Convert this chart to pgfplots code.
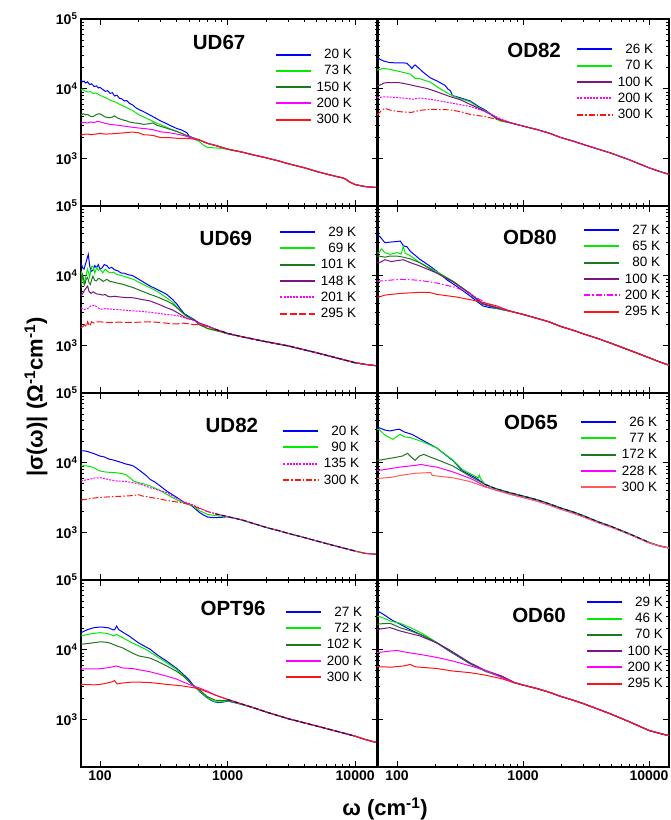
\documentclass[border=0pt]{standalone}
\usepackage{fontspec}
\setmainfont{Liberation Sans}
\usepackage{pgfplots}
\pgfplotsset{compat=1.18}
\definecolor{cblue}{RGB}{0,0,255}
\definecolor{cgreen}{RGB}{0,235,0}
\definecolor{cdgreen}{RGB}{30,120,30}
\definecolor{cpurple}{RGB}{125,20,130}
\definecolor{cmag}{RGB}{255,0,255}
\definecolor{cred}{RGB}{255,20,20}
\definecolor{cpale}{RGB}{255,90,90}
\definecolor{cnavy}{RGB}{0,0,120}
\tikzset{
  lw/.style={line width=1pt},
  dots/.style={dash pattern=on 2pt off 1.2pt},
  ldash/.style={dash pattern=on 7pt off 2.5pt},
  ddot/.style={dash pattern=on 6pt off 2pt on 1.5pt off 2pt},
  fitln/.style={cnavy, line width=0.9pt, dash pattern=on 4pt off 3pt},
}
\pgfplotsset{
  myPanel/.style={
    scale only axis, width=297pt, height=187pt,
    ymin=210, ymax=100000,
    ytick={1000,10000,100000}, xtick={100,1000,10000},
    xticklabels={}, yticklabels={},
    tick align=inside, tick pos=both,
    major tick length=6pt, minor tick length=3.5pt,
    axis line style={line width=1.2pt},
    every tick/.style={black, line width=0.8pt},
    tick label style={font=\bfseries\fontsize{14}{14}\selectfont},
    legend cell align=right,
    legend style={draw=none, fill=none, anchor=north east, inner sep=0pt, outer sep=0pt,
      font=\fontsize{13.5}{13.5}\selectfont,
      nodes={inner sep=0.5pt, text height=9.5pt, text depth=2.5pt},
      row sep=3.3pt, column sep=4pt},
    legend image code/.code={\draw[##1, line width=2pt] (0pt,0.5pt) -- (35pt,0.5pt);},
  },
  myLeft/.style={myPanel, xmin=71, xmax=15100},
  myRight/.style={myPanel, xmin=69.3, xmax=14400, width=292pt},
  myYlab/.style={yticklabels={10\textsuperscript{3},10\textsuperscript{4},10\textsuperscript{5}}},
  myXlab/.style={xticklabels={100,1000,10000}},
}
\newcommand{\ttl}{\bfseries\fontsize{20.5}{20.5}\selectfont}
\begin{document}
\begin{tikzpicture}
\useasboundingbox (0pt,0pt) rectangle (670pt,820pt);
% ================= UD67 =================
\begin{loglogaxis}[myLeft, myYlab, at={(81pt,614pt)}, anchor=south west,
  legend style={at={(0.914,0.842)}}]
\addplot[cblue, lw] coordinates {(71,13400) (73,12600) (75,12900) (77,12100) (80,12600) (83,11500) (86,11800) (90,10800) (94,11000) (97,10300) (100,10500) (105,9800) (110,9200) (115,9400) (120,8600) (125,8800) (130,7900) (136,8100) (142,7300) (148,7200) (155,6700) (162,6800) (170,6200) (180,5900) (190,5400) (200,5100) (215,4800) (230,4500) (250,4150) (270,3850) (300,3450) (330,3200) (360,2950) (400,2700) (430,2600) (460,2450) (480,2350) (500,2100) (550,1950) (600,1850) (700,1650) (800,1550) (1000,1370) (1300,1240) (1600,1130) (2000,1030) (2500,930) (3000,845) (4000,740) (5000,655) (6000,600) (7000,560) (8000,530) (8500,505) (9000,465) (10000,425) (12000,398) (15100,385)};
\addlegendentry{20 K}
\addplot[cgreen, lw] coordinates {(71,9600) (73,9900) (76,9300) (80,9000) (84,9100) (88,8600) (93,8700) (100,8100) (106,7700) (112,7400) (120,6900) (128,6600) (136,6300) (145,5900) (155,5600) (165,5300) (180,4900) (200,4300) (220,3950) (250,3550) (280,3200) (300,3050) (350,2700) (400,2450) (450,2250) (500,2050) (550,1900) (600,1760) (650,1550) (700,1440) (800,1430) (900,1400) (1000,1360) (1300,1240) (1600,1130) (2000,1030) (2500,930) (3000,845) (4000,740) (5000,655) (6000,600) (7000,560) (8000,530) (8500,505) (9000,465) (10000,425) (12000,398) (15100,385)};
\addlegendentry{73 K}
\addplot[cdgreen, lw] coordinates {(71,4200) (74,4400) (77,4250) (80,4300) (84,4050) (88,4000) (92,4200) (96,4350) (100,4400) (105,4150) (110,3950) (118,3850) (125,3950) (130,4100) (138,3800) (150,3600) (160,3500) (170,3350) (185,3250) (200,3200) (220,3100) (240,3150) (260,3250) (280,3000) (300,2900) (350,2650) (400,2450) (450,2250) (500,2080) (550,1950) (600,1850) (700,1650) (800,1550) (1000,1370) (1300,1240) (1600,1130) (2000,1030) (2500,930) (3000,845) (4000,740) (5000,655) (6000,600) (7000,560) (8000,530) (8500,505) (9000,465) (10000,425) (12000,398) (15100,385)};
\addlegendentry{150 K}
\addplot[cmag, lw] coordinates {(71,3240) (75,3300) (80,3250) (85,3350) (90,3300) (95,3400) (100,3370) (110,3200) (120,3100) (130,3050) (140,3000) (150,2950) (170,2850) (200,2750) (230,2680) (260,2600) (300,2420) (350,2350) (400,2250) (450,2150) (500,2030) (550,1940) (600,1850) (700,1650) (800,1550) (1000,1370) (1300,1240) (1600,1130) (2000,1030) (2500,930) (3000,845) (4000,740) (5000,655) (6000,600) (7000,560) (8000,530) (8500,505) (9000,465) (10000,425) (12000,398) (15100,385)};
\addlegendentry{200 K}
\addplot[cred, lw] coordinates {(71,2180) (75,2230) (80,2250) (85,2200) (90,2230) (100,2300) (110,2250) (120,2260) (135,2300) (150,2330) (165,2380) (180,2400) (200,2350) (220,2200) (240,2180) (260,2150) (300,2000) (350,2000) (400,1960) (450,1950) (500,1940) (550,1900) (600,1850) (700,1650) (800,1550) (1000,1370) (1300,1240) (1600,1130) (2000,1030) (2500,930) (3000,845) (4000,740) (5000,655) (6000,600) (7000,560) (8000,530) (8500,505) (9000,465) (10000,425) (12000,398) (15100,385)};
\addlegendentry{300 K}
\node[font=\ttl] at (rel axis cs:0.465,0.872) {UD67};
\end{loglogaxis}
% ================= OD82 =================
\begin{loglogaxis}[myRight, at={(377pt,614pt)}, anchor=south west,
  legend style={at={(0.947,0.869)}}]
\addplot[cblue, lw] coordinates {(69.3,27300) (72,27000) (78,25000) (88,23700) (105,23500) (119,23400) (127,21000) (131,19500) (135,21000) (139,22000) (150,19500) (160,17500) (183,14400) (210,12800) (240,11200) (255,9800) (265,9400) (275,8000) (290,7800) (320,7400) (380,6700) (450,5500) (500,4970) (550,4400) (620,3800) (700,3450) (800,3250) (1000,2930) (1300,2600) (1600,2330) (2000,2000) (2500,1780) (3000,1600) (4000,1360) (5000,1200) (7000,960) (10000,740) (12000,660) (14400,595)};
\addlegendentry{26 K}
\addplot[cgreen, lw] coordinates {(69.3,18600) (72,18800) (78,19700) (88,19000) (100,18000) (115,17000) (127,16300) (135,14800) (139,14100) (150,14000) (160,13500) (183,12500) (220,10000) (263,8300) (300,7500) (380,6530) (450,5300) (540,4470) (620,3650) (660,3450) (720,3350) (800,3250) (1000,2930) (1300,2600) (1600,2330) (2000,2000) (2500,1780) (3000,1600) (4000,1360) (5000,1200) (7000,960) (10000,740) (12000,660) (14400,595)};
\addlegendentry{70 K}
\addplot[cpurple, lw] coordinates {(69.3,11000) (72,11200) (80,12200) (95,12300) (106,12200) (125,11500) (139,11000) (170,10200) (206,9100) (260,7800) (316,7000) (380,6000) (450,5200) (540,4400) (620,3750) (700,3450) (800,3250) (1000,2930) (1300,2600) (1600,2330) (2000,2000) (2500,1780) (3000,1600) (4000,1360) (5000,1200) (7000,960) (10000,740) (12000,660) (14400,595)};
\addlegendentry{100 K}
\addplot[cmag, lw, dots] coordinates {(69.3,7550) (72,7500) (78,7700) (90,7600) (100,7500) (120,7300) (134,7100) (145,7300) (154,7400) (200,6900) (278,6200) (380,5600) (500,4700) (650,3800) (827,3200) (1000,2930) (1300,2600) (1600,2330) (2000,2000) (2500,1780) (3000,1600) (4000,1360) (5000,1200) (7000,960) (10000,740) (12000,660) (14400,595)};
\addlegendentry{200 K}
\addplot[cred, lw, ddot] coordinates {(69.3,4220) (72,4500) (76,5000) (80,5250) (90,4900) (106,4700) (130,4600) (150,4900) (183,5100) (263,5000) (320,4700) (380,4300) (500,4000) (620,3650) (800,3250) (1000,2930) (1300,2600) (1600,2330) (2000,2000) (2500,1780) (3000,1600) (4000,1360) (5000,1200) (7000,960) (10000,740) (12000,660) (14400,595)};
\addlegendentry{300 K}
\node[font=\ttl] at (rel axis cs:0.538,0.834) {OD82};
\end{loglogaxis}
% ================= UD69 =================
\begin{loglogaxis}[myLeft, myYlab, at={(81pt,427pt)}, anchor=south west,
  legend style={at={(0.928,0.892)}}]
\addplot[cblue, lw] coordinates {(71,15400) (73,13000) (75,12500) (78,16000) (81,20300) (83,14000) (85,11500) (88,12000) (91,14000) (94,13000) (97,14500) (100,12500) (104,13000) (108,14500) (113,14000) (118,12800) (124,13200) (130,12200) (138,11800) (146,11000) (155,10900) (165,10400) (175,10200) (183,9900) (200,9000) (220,8100) (247,7150) (270,6600) (300,6000) (333,5430) (370,4600) (400,3950) (430,3300) (460,2850) (500,2600) (540,2400) (600,2100) (700,1900) (800,1720) (1000,1500) (1300,1340) (1600,1240) (2000,1140) (3000,990) (5000,790) (7000,675) (10000,569) (12000,540) (15100,512)};
\addlegendentry{29 K}
\addplot[cgreen, lw] coordinates {(71,11700) (73,9000) (75,7500) (78,10500) (80,12500) (83,9500) (86,13500) (88,13800) (91,11000) (94,13000) (97,12000) (100,12500) (105,11000) (110,12500) (115,11500) (120,11000) (128,11300) (135,10500) (145,10200) (160,9600) (183,8900) (210,7800) (247,6760) (280,6000) (333,4850) (370,4200) (400,3600) (440,3000) (478,2600) (540,2350) (600,2000) (700,1750) (800,1650) (900,1560) (1000,1480) (1300,1340) (1600,1240) (2000,1140) (3000,990) (5000,790) (7000,675) (10000,569) (12000,540) (15100,512)};
\addlegendentry{69 K}
\addplot[cdgreen, lw] coordinates {(71,6800) (72,9500) (73,10500) (75,8500) (76,7500) (78,9000) (80,9500) (82,8000) (84,7500) (86,8800) (88,9900) (91,8600) (94,8500) (97,9200) (100,9000) (106,8300) (113,8900) (120,8300) (125,8200) (132,8000) (140,7800) (150,7600) (160,7300) (183,6760) (210,6100) (247,5430) (280,5000) (333,4370) (370,3950) (400,3500) (440,3000) (478,2650) (540,2400) (600,2000) (700,1760) (800,1660) (900,1570) (1000,1480) (1300,1340) (1600,1240) (2000,1140) (3000,990) (5000,790) (7000,675) (10000,569) (12000,540) (15100,512)};
\addlegendentry{101 K}
\addplot[cpurple, lw] coordinates {(71,5150) (74,5800) (77,6500) (80,7150) (82,6000) (85,5600) (88,5900) (90,5800) (94,5500) (100,5430) (105,5300) (110,5400) (115,5100) (120,5000) (130,5100) (140,5000) (155,4900) (183,4850) (210,4600) (247,4370) (290,3900) (333,3490) (370,3250) (400,3000) (440,2700) (478,2450) (540,2350) (600,2100) (700,1900) (800,1720) (1000,1500) (1300,1340) (1600,1240) (2000,1140) (3000,990) (5000,790) (7000,675) (10000,569) (12000,540) (15100,512)};
\addlegendentry{148 K}
\addplot[cmag, lw, dots] coordinates {(71,3490) (75,3300) (80,3400) (85,3700) (90,3800) (95,3600) (100,3310) (105,3350) (110,3400) (120,3350) (130,3300) (150,3250) (183,3150) (210,3100) (250,3000) (290,2900) (333,2800) (400,2700) (478,2450) (540,2300) (600,2100) (700,1900) (800,1720) (1000,1500) (1300,1340) (1600,1240) (2000,1140) (3000,990) (5000,790) (7000,675) (10000,569) (12000,540) (15100,512)};
\addlegendentry{201 K}
\addplot[cred, lw, ldash] coordinates {(71,1800) (74,1900) (76,2000) (78,1850) (80,2200) (83,1900) (86,2200) (90,2100) (95,2200) (100,2200) (110,2150) (120,2150) (140,2170) (160,2150) (183,2150) (210,2180) (250,2200) (290,2150) (333,2100) (370,2050) (400,2050) (450,2100) (500,2050) (540,2000) (600,2000) (700,1870) (800,1720) (1000,1500) (1300,1340) (1600,1240) (2000,1140) (3000,990) (5000,790) (7000,675) (10000,569) (12000,540) (15100,512)};
\addlegendentry{295 K}
\addplot[fitln, forget plot] coordinates {(800,1720) (1000,1500) (1300,1340) (1600,1240) (2000,1140) (3000,990) (5000,790) (7000,675) (10000,569)};
\node[font=\ttl] at (rel axis cs:0.488,0.824) {UD69};
\end{loglogaxis}
% ================= OD80 =================
\begin{loglogaxis}[myRight, at={(377pt,427pt)}, anchor=south west,
  legend style={at={(0.971,0.903)}}]
\addplot[cblue, lw] coordinates {(69.3,37200) (72,37200) (75,34500) (80,29800) (90,30500) (100,31000) (106,31500) (112,27000) (120,26000) (127,22600) (140,19500) (152,17200) (180,14000) (206,11700) (250,8700) (300,7000) (380,5150) (430,4300) (481,3700) (550,3500) (620,3400) (700,3250) (800,3100) (1000,2800) (1300,2450) (1600,2200) (2000,1880) (2500,1660) (3000,1480) (4000,1250) (5000,1080) (7000,860) (10000,672) (12000,590) (14400,525)};
\addlegendentry{27 K}
\addplot[cgreen, lw] coordinates {(69.3,21400) (72,21400) (75,24300) (80,21500) (88,20300) (100,21500) (108,20500) (112,26700) (116,21000) (127,19500) (152,15400) (206,11500) (278,8400) (380,5600) (450,4200) (515,3800) (620,3400) (700,3250) (800,3100) (1000,2800) (1300,2450) (1600,2200) (2000,1880) (2500,1660) (3000,1480) (4000,1250) (5000,1080) (7000,860) (10000,672) (12000,590) (14400,525)};
\addlegendentry{65 K}
\addplot[cdgreen, lw] coordinates {(69.3,19200) (72,19200) (80,18500) (88,19200) (100,19200) (112,18500) (127,17500) (152,15400) (206,11000) (278,8300) (380,5500) (481,3900) (620,3450) (700,3280) (800,3100) (1000,2800) (1300,2450) (1600,2200) (2000,1880) (2500,1660) (3000,1480) (4000,1250) (5000,1080) (7000,860) (10000,672) (12000,590) (14400,525)};
\addlegendentry{80 K}
\addplot[cpurple, lw] coordinates {(69.3,15400) (72,15400) (80,17000) (90,16000) (100,16500) (112,17000) (127,15500) (152,13800) (206,11000) (278,8200) (380,5600) (481,4000) (620,3500) (700,3300) (800,3100) (1000,2800) (1300,2450) (1600,2200) (2000,1880) (2500,1660) (3000,1480) (4000,1250) (5000,1080) (7000,860) (10000,672) (12000,590) (14400,525)};
\addlegendentry{100 K}
\addplot[cmag, lw, ddot] coordinates {(69.3,8400) (72,8400) (90,8700) (106,8900) (127,8800) (152,8600) (206,7900) (297,6760) (380,5500) (428,4850) (520,4000) (620,3600) (700,3330) (800,3100) (1000,2800) (1300,2450) (1600,2200) (2000,1880) (2500,1660) (3000,1480) (4000,1250) (5000,1080) (7000,860) (10000,672) (12000,590) (14400,525)};
\addlegendentry{200 K}
\addplot[cred, lw] coordinates {(69.3,4970) (72,4970) (80,5300) (106,5600) (152,5800) (180,5800) (206,5430) (297,4970) (428,4370) (620,3700) (700,3400) (800,3100) (1000,2800) (1300,2450) (1600,2200) (2000,1880) (2500,1660) (3000,1480) (4000,1250) (5000,1080) (7000,860) (10000,672) (12000,590) (14400,525)};
\addlegendentry{295 K}
\node[font=\ttl] at (rel axis cs:0.524,0.834) {OD80};
\end{loglogaxis}
% ================= UD82 =================
\begin{loglogaxis}[myLeft, myYlab, at={(81pt,240pt)}, anchor=south west,
  legend style={at={(0.938,0.828)}}]
\addplot[cblue, lw] coordinates {(71,14800) (75,14900) (80,14500) (85,14000) (90,13500) (95,13000) (100,12500) (105,12300) (110,12000) (115,11500) (120,11200) (127,11000) (135,10600) (140,10400) (150,10000) (160,9600) (170,9400) (183,9000) (195,8300) (210,7500) (230,6600) (247,5800) (270,5300) (290,4800) (333,3950) (370,3500) (400,3200) (450,2750) (520,2450) (606,1930) (650,1780) (700,1670) (800,1640) (900,1660) (1000,1690) (1300,1520) (1600,1350) (2000,1190) (2500,1070) (3000,975) (4000,850) (5000,760) (7000,645) (10000,545) (12000,505) (15100,488)};
\addlegendentry{20 K}
\addplot[cgreen, lw] coordinates {(71,9000) (75,9100) (80,9000) (85,8800) (90,8500) (95,8000) (100,7650) (110,7400) (120,7300) (135,7200) (150,7000) (160,6700) (170,6200) (183,5500) (200,5200) (220,5000) (247,4660) (290,4100) (333,3540) (400,2950) (450,2680) (520,2500) (606,2050) (700,1820) (800,1760) (900,1720) (1000,1700) (1300,1520) (1600,1350) (2000,1190) (2500,1070) (3000,975) (4000,850) (5000,760) (7000,645) (10000,545) (12000,505) (15100,488)};
\addlegendentry{90 K}
\addplot[cmag, lw, dots] coordinates {(71,5500) (78,5700) (85,5900) (92,6100) (100,6120) (107,6000) (115,5800) (125,5600) (135,5500) (150,5450) (160,5400) (183,5190) (210,4900) (247,4400) (290,4050) (333,3750) (400,3100) (450,2800) (520,2550) (606,2250) (700,2000) (800,1870) (1000,1700) (1300,1520) (1600,1350) (2000,1190) (2500,1070) (3000,975) (4000,850) (5000,760) (7000,645) (10000,545) (12000,505) (15100,488)};
\addlegendentry{135 K}
\addplot[cred, lw, ddot] coordinates {(71,2930) (78,3000) (85,3100) (100,3200) (115,3250) (135,3300) (160,3350) (183,3400) (200,3500) (215,3350) (230,3300) (247,3200) (290,3050) (333,2900) (400,2750) (450,2650) (520,2500) (606,2200) (700,2000) (800,1870) (1000,1700) (1300,1520) (1600,1350) (2000,1190) (2500,1070) (3000,975) (4000,850) (5000,760) (7000,645) (10000,545) (12000,505) (15100,488)};
\addlegendentry{300 K}
\addplot[fitln, forget plot] coordinates {(800,1870) (1000,1700) (1300,1520) (1600,1350) (2000,1190) (2500,1070) (3000,975) (4000,850) (5000,760) (7000,645) (10000,545)};
\node[font=\ttl] at (rel axis cs:0.508,0.829) {UD82};
\end{loglogaxis}
% ================= OD65 =================
\begin{loglogaxis}[myRight, at={(377pt,240pt)}, anchor=south west,
  legend style={at={(0.961,0.876)}}]
\addplot[cblue, lw] coordinates {(69.3,31800) (72,31800) (80,29500) (88,28600) (95,29500) (104,30300) (115,27500) (131,25600) (160,21000) (206,16400) (280,10600) (330,7650) (420,6100) (500,4900) (600,4300) (700,3950) (800,3700) (1000,3340) (1300,2950) (1600,2600) (2000,2250) (2500,1980) (3000,1750) (4000,1420) (5000,1230) (7000,960) (10000,725) (12000,650) (14400,605)};
\addlegendentry{26 K}
\addplot[cgreen, lw] coordinates {(69.3,30300) (72,30000) (80,25000) (93,21700) (100,24000) (106,25600) (115,23500) (127,23000) (160,20000) (206,16400) (280,10800) (330,8000) (420,6400) (440,6050) (450,6700) (460,5900) (500,4950) (600,4300) (700,3950) (800,3700) (1000,3340) (1300,2950) (1600,2600) (2000,2250) (2500,1980) (3000,1750) (4000,1420) (5000,1230) (7000,960) (10000,725) (12000,650) (14400,605)};
\addlegendentry{77 K}
\addplot[cdgreen, lw] coordinates {(69.3,10900) (72,10900) (93,11800) (110,12500) (121,13700) (130,12000) (139,10900) (150,12500) (163,13200) (185,12000) (206,11200) (278,9000) (380,6400) (500,4900) (600,4300) (700,3950) (800,3700) (1000,3340) (1300,2950) (1600,2600) (2000,2250) (2500,1980) (3000,1750) (4000,1420) (5000,1230) (7000,960) (10000,725) (12000,650) (14400,605)};
\addlegendentry{172 K}
\addplot[cmag, lw] coordinates {(69.3,7800) (72,7800) (90,8300) (106,8700) (140,9200) (155,9500) (180,9000) (206,8700) (278,7400) (380,6000) (420,5500) (500,4600) (600,4100) (700,3780) (800,3530) (1000,3190) (1300,2820) (1600,2500) (2000,2160) (2500,1900) (3000,1690) (4000,1380) (5000,1200) (7000,945) (10000,715) (12000,645) (14400,600)};
\addlegendentry{228 K}
\addplot[cpale, lw] coordinates {(69.3,6000) (72,6000) (90,6200) (106,6600) (140,7100) (170,7200) (185,7300) (190,6600) (220,6400) (278,6100) (330,5700) (380,5400) (500,4500) (600,4100) (700,3780) (800,3530) (1000,3190) (1300,2820) (1600,2500) (2000,2160) (2500,1900) (3000,1690) (4000,1380) (5000,1200) (7000,945) (10000,715) (12000,645) (14400,600)};
\addlegendentry{300 K}
\addplot[fitln, forget plot] coordinates {(500,4900) (600,4300) (700,3950) (800,3700) (1000,3340) (1300,2950) (1600,2600) (2000,2250) (2500,1980) (3000,1750) (4000,1420) (5000,1230) (7000,960) (10000,725)};
\node[font=\ttl] at (rel axis cs:0.527,0.84) {OD65};
\end{loglogaxis}
% ================= OPT96 =================
\begin{loglogaxis}[myLeft, myYlab, myXlab, at={(81pt,53pt)}, anchor=south west,
  legend style={at={(0.948,0.86)}}]
\addplot[cblue, lw] coordinates {(71,17600) (75,18500) (80,19500) (90,20800) (100,21200) (110,21000) (118,20500) (125,19500) (130,19300) (135,21900) (140,19500) (150,18000) (158,17000) (170,15700) (180,14500) (190,13500) (200,12600) (210,12000) (225,11200) (247,10200) (280,8500) (333,6900) (400,5400) (450,4460) (500,3700) (540,3100) (600,2550) (690,2060) (760,1850) (830,1760) (900,1770) (1000,1850) (1300,1650) (1600,1480) (2000,1290) (2500,1140) (3000,1030) (4000,900) (5000,810) (7000,690) (10000,580) (12000,520) (15100,465)};
\addlegendentry{27 K}
\addplot[cgreen, lw] coordinates {(71,15800) (80,16600) (90,17200) (100,17600) (110,17300) (120,16700) (128,15800) (135,16600) (145,15500) (160,14000) (180,12500) (200,11400) (225,10300) (247,9300) (280,8000) (333,6560) (400,5200) (450,4300) (540,3030) (600,2600) (700,2050) (800,1800) (900,1800) (1000,1870) (1300,1650) (1600,1480) (2000,1290) (2500,1140) (3000,1030) (4000,900) (5000,810) (7000,690) (10000,580) (12000,520) (15100,465)};
\addlegendentry{72 K}
\addplot[cdgreen, lw] coordinates {(71,12000) (85,12500) (100,13000) (110,12900) (120,12500) (135,11400) (150,10700) (160,10000) (180,9000) (200,8200) (215,8000) (247,7600) (280,6900) (333,5880) (400,4900) (450,4200) (540,3030) (600,2700) (690,2150) (800,1900) (900,1880) (1000,1900) (1300,1660) (1600,1480) (2000,1290) (2500,1140) (3000,1030) (4000,900) (5000,810) (7000,690) (10000,580) (12000,520) (15100,465)};
\addlegendentry{102 K}
\addplot[cmag, lw] coordinates {(71,5360) (85,5350) (100,5360) (120,5600) (135,5880) (150,5500) (180,5400) (200,5200) (247,4850) (333,4200) (400,3800) (450,3450) (540,3030) (600,2850) (690,2570) (800,2250) (1000,1950) (1300,1670) (1600,1480) (2000,1290) (2500,1140) (3000,1030) (4000,900) (5000,810) (7000,690) (10000,580) (12000,520) (15100,465)};
\addlegendentry{200 K}
\addplot[cred, lw] coordinates {(71,3200) (80,3180) (90,3150) (100,3200) (110,3300) (118,3400) (125,3500) (130,3630) (134,3350) (137,3250) (150,3350) (180,3450) (200,3450) (247,3400) (333,3200) (400,3100) (450,3030) (540,2870) (600,2750) (690,2500) (800,2250) (1000,1950) (1300,1670) (1600,1480) (2000,1290) (2500,1140) (3000,1030) (4000,900) (5000,810) (7000,690) (10000,580) (12000,520) (15100,465)};
\addlegendentry{300 K}
\addplot[fitln, forget plot] coordinates {(1000,1950) (1300,1670) (1600,1480) (2000,1290) (2500,1140) (3000,1030) (4000,900) (5000,810) (7000,690) (10000,580)};
\node[font=\ttl] at (rel axis cs:0.512,0.85) {OPT96};
\end{loglogaxis}
% ================= OD60 =================
\begin{loglogaxis}[myRight, myXlab, at={(377pt,53pt)}, anchor=south west,
  legend style={at={(0.981,0.913)}}]
\addplot[cblue, lw] coordinates {(69.3,35200) (72,35000) (78,32200) (90,27000) (106,23200) (130,19000) (160,16000) (206,12600) (260,9600) (310,7900) (360,6700) (380,6300) (450,5400) (500,4970) (680,4080) (850,3400) (1000,3130) (1300,2780) (1600,2480) (2000,2150) (2500,1900) (3000,1700) (4000,1400) (5000,1200) (7000,930) (10000,700) (12000,640) (14400,590)};
\addlegendentry{29 K}
\addplot[cgreen, lw] coordinates {(69.3,30500) (72,30000) (80,28000) (88,25900) (106,24000) (130,20500) (160,17000) (206,12800) (260,9800) (380,6400) (500,4900) (680,4100) (850,3400) (1000,3130) (1300,2780) (1600,2480) (2000,2150) (2500,1900) (3000,1700) (4000,1400) (5000,1200) (7000,930) (10000,700) (12000,640) (14400,590)};
\addlegendentry{46 K}
\addplot[cdgreen, lw] coordinates {(69.3,23200) (72,23500) (88,24000) (106,20700) (130,18500) (160,16000) (206,12700) (260,9800) (380,6450) (500,5000) (680,4150) (850,3400) (1000,3130) (1300,2780) (1600,2480) (2000,2150) (2500,1900) (3000,1700) (4000,1400) (5000,1200) (7000,930) (10000,700) (12000,640) (14400,590)};
\addlegendentry{70 K}
\addplot[cpurple, lw] coordinates {(69.3,19700) (72,19800) (88,20800) (106,18600) (152,15800) (206,12600) (260,10000) (380,6500) (500,5100) (680,4200) (850,3420) (1000,3130) (1300,2780) (1600,2480) (2000,2150) (2500,1900) (3000,1700) (4000,1400) (5000,1200) (7000,930) (10000,700) (12000,640) (14400,590)};
\addlegendentry{100 K}
\addplot[cmag, lw] coordinates {(69.3,9100) (72,9200) (88,9600) (100,9800) (115,9300) (152,8600) (206,7800) (278,6900) (380,5900) (500,5100) (680,4000) (850,3400) (1000,3130) (1300,2780) (1600,2480) (2000,2150) (2500,1900) (3000,1700) (4000,1400) (5000,1200) (7000,930) (10000,700) (12000,640) (14400,590)};
\addlegendentry{200 K}
\addplot[cred, lw] coordinates {(69.3,5730) (72,5730) (90,5650) (115,5900) (127,6200) (140,5700) (152,5650) (206,5400) (278,4970) (380,4710) (500,4350) (680,3850) (850,3370) (1000,3130) (1300,2780) (1600,2480) (2000,2150) (2500,1900) (3000,1700) (4000,1400) (5000,1200) (7000,930) (10000,700) (12000,640) (14400,590)};
\addlegendentry{295 K}
\node[font=\ttl] at (rel axis cs:0.555,0.813) {OD60};
\end{loglogaxis}
% ---------- overall labels ----------
\node[rotate=90, font=\bfseries\fontsize{22}{22}\selectfont] at (36pt,423pt) {|σ(ω)| (Ω\textsuperscript{-1}cm\textsuperscript{-1})};
\node[font=\bfseries\fontsize{22}{22}\selectfont] at (385pt,11pt) {ω (cm\textsuperscript{-1})};
\end{tikzpicture}
\end{document}
